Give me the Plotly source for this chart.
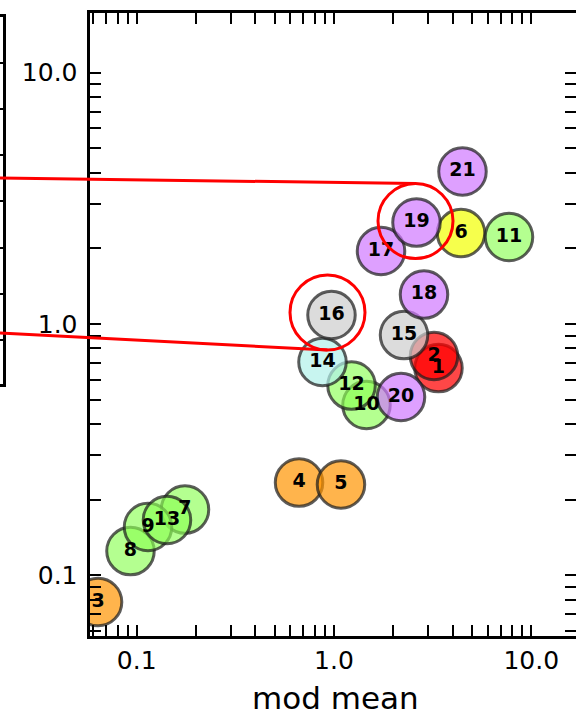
import numpy as np
import plotly.graph_objects as go

# ---- data -------------------------------------------------------------
ids = [str(i) for i in range(1, 22)]
mod_mean = [3.385, 3.213, 0.0637, 0.665, 1.085, 4.403, 0.1757, 0.0930, 0.1141, 1.461,
            7.709, 1.227, 0.1424, 0.8743, 2.264, 0.9712, 1.731, 2.859, 2.619, 2.186, 4.480]
y_val = [0.668, 0.746, 0.0783, 0.234, 0.2298, 2.302, 0.1827, 0.1249, 0.1557, 0.4762,
         2.219, 0.5691, 0.166, 0.7062, 0.904, 1.086, 1.952, 1.310, 2.534, 0.5123, 4.045]
group = ["red", "red", "orange", "orange", "orange", "yellow",
         "green", "green", "green", "green", "green", "green", "green",
         "cyan", "gray", "gray", "purple", "purple", "purple", "purple", "purple"]

# highlighted points (red rings) and their links to the neighbouring panel
ring_x = [2.589, 0.927]
ring_y = [2.570, 1.111]

tick_vals = [0.1, 1.0, 10.0]
tick_text = ["0.1", "1.0", "10.0"]
x_title = "mod mean"

# ---- styling ----------------------------------------------------------
W, H = 576, 711
FONT = "DejaVu Sans"
fill = {
    "red": "rgba(255,0,0,0.72)",
    "orange": "rgba(255,148,0,0.7)",
    "yellow": "rgba(242,255,0,0.7)",
    "green": "rgba(140,255,85,0.65)",
    "cyan": "rgba(176,241,234,0.7)",
    "gray": "rgba(205,205,205,0.7)",
    "purple": "rgba(208,120,255,0.7)",
}

# plot-area geometry in pixels
L, R, T, B = 89.5, 576.0, 12.5, 636.0
x_range = [-1.2392, 1.2266]
y_range = [-1.2415, 1.2396]

minor_vals = [k * 10.0 ** d for d in range(-2, 2) for k in range(2, 10)]


def px_x(v):
    return L + (np.log10(v) - x_range[0]) / (x_range[1] - x_range[0]) * (R - L)


def px_y(v):
    return B - (np.log10(v) - y_range[0]) / (y_range[1] - y_range[0]) * (B - T)


fig = go.Figure()

fig.add_trace(go.Scatter(
    x=mod_mean, y=y_val, text=ids, mode="markers+text",
    marker=dict(size=47.5, color=[fill[g] for g in group],
                line=dict(width=3, color="rgba(30,30,30,0.72)")),
    textposition="middle center",
    textfont=dict(family=FONT, size=19, color="black", weight="bold"),
    hoverinfo="skip", showlegend=False,
))

RING = 75
fig.add_trace(go.Scatter(
    x=ring_x, y=ring_y, mode="markers",
    marker=dict(symbol="circle-open", size=RING, color="red", line=dict(width=3, color="red")),
    hoverinfo="skip", showlegend=False,
))

# tick-only copy of the y axis on the right edge
fig.add_trace(go.Scatter(x=[], y=[], xaxis="x", yaxis="y3", showlegend=False))
# neighbouring panel (only its right edge is in view)
fig.add_trace(go.Scatter(x=[], y=[], xaxis="x2", yaxis="y2", showlegend=False))

tick_style = dict(
    ticks="inside", ticklen=11, tickwidth=2, tickcolor="black",
    tickmode="array", tickvals=tick_vals, ticktext=tick_text,
    tickfont=dict(family=FONT, size=25, color="black"),
    showgrid=False, zeroline=False, automargin=False,
    minor=dict(tickmode="array", tickvals=minor_vals, ticks="inside", ticklen=11,
               tickwidth=2, tickcolor="black", showgrid=False),
)

fig.update_layout(
    width=W, height=H,
    margin=dict(l=0, r=0, t=0, b=0, pad=0, autoexpand=False),
    paper_bgcolor="white", plot_bgcolor="white",
    xaxis=dict(tick_style, type="log", range=x_range, domain=[L / W, R / W], anchor="y",
               showline=True, linewidth=3, linecolor="black", mirror="ticks"),
    yaxis=dict(tick_style, type="log", range=y_range, domain=[1 - B / H, 1 - T / H],
               anchor="x", showline=True, linewidth=3, linecolor="black", mirror=False,
               ticklabelstandoff=4),
    yaxis3=dict(tick_style, type="log", range=y_range, overlaying="y", side="right",
                anchor="x", showline=False, showticklabels=False),
    xaxis2=dict(domain=[0, 3 / W], anchor="y2", range=[0, 1], showline=True, mirror=True,
                linewidth=3, linecolor="black", ticks="", showticklabels=False,
                showgrid=False, zeroline=False, automargin=False),
    yaxis2=dict(domain=[1 - 384 / H, 1 - 17 / H], anchor="x2", side="right",
                range=[-0.95, 6.99], showline=True, mirror=False, linewidth=3,
                linecolor="black", ticks="inside", ticklen=8, tickwidth=2,
                tickcolor="black", tickmode="array", tickvals=list(range(7)),
                showticklabels=False, showgrid=False, zeroline=False, automargin=False),
)

# x-axis title, placed below the tick labels
fig.add_annotation(text=x_title, xref="paper", yref="paper",
                   x=335 / W, y=1 - 698 / H, xanchor="center", yanchor="middle",
                   showarrow=False, font=dict(family=FONT, size=31, color="black"))

# connector lines from the neighbouring panel to the top / bottom of the rings
starts = [178.0, 333.0]
ends = [(px_x(ring_x[0]), px_y(ring_y[0]) - RING / 2),
        (px_x(ring_x[1]), px_y(ring_y[1]) + RING / 2)]
for sy, (ex, ey) in zip(starts, ends):
    fig.add_shape(type="line", xref="paper", yref="paper",
                  x0=0, y0=1 - sy / H, x1=ex / W, y1=1 - ey / H,
                  line=dict(color="red", width=3), layer="above")

fig.write_html("out.html")
